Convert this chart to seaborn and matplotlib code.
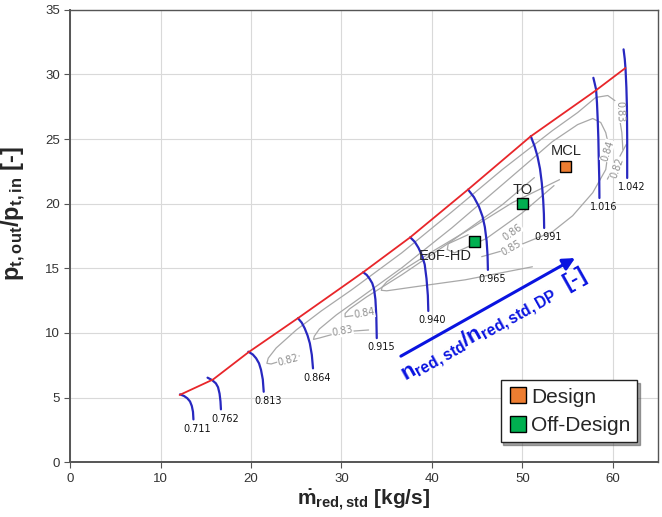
import numpy as np
import pandas as pd
import seaborn as sns
import matplotlib.pyplot as plt
from matplotlib.lines import Line2D

# surge line (red)
surge_x = [12.1, 15.8, 19.7, 25.3, 32.4, 37.6, 44.0, 50.9, 58.0, 61.4]
surge_y = [5.2, 6.4, 8.5, 11.2, 14.7, 17.4, 21.1, 25.2, 28.7, 30.5]

# speed lines (blue), top -> bottom
speed_labels = ['0.711', '0.762', '0.813', '0.864', '0.915', '0.940', '0.965', '0.991', '1.016', '1.042']
speed_x = [
    [12.15, 12.6, 12.96, 13.25, 13.45, 13.58, 13.63],
    [15.19, 15.7, 16.11, 16.35, 16.52, 16.62, 16.67],
    [19.70, 20.2, 20.56, 20.88, 21.10, 21.30, 21.40],
    [25.19, 25.6, 25.93, 26.25, 26.50, 26.72, 26.85],
    [32.40, 32.8, 33.10, 33.40, 33.60, 33.75, 33.85, 33.90],
    [37.60, 38.1, 38.50, 38.90, 39.20, 39.40, 39.55, 39.60],
    [44.00, 44.65, 45.19, 45.60, 45.85, 46.05, 46.15, 46.19],
    [50.93, 51.35, 51.67, 51.95, 52.15, 52.30, 52.38, 52.41],
    [57.85, 58.00, 58.15, 58.25, 58.33, 58.40, 58.44, 58.50, 58.52],
    [61.19, 61.32, 61.41, 61.50, 61.56, 61.59, 61.59],
]
speed_y = [
    [5.25, 5.12, 4.94, 4.70, 4.35, 3.90, 3.31],
    [6.54, 6.35, 6.10, 5.80, 5.30, 4.70, 4.09],
    [8.55, 8.33, 8.04, 7.65, 7.15, 6.40, 5.45],
    [11.14, 10.80, 10.36, 9.80, 9.20, 8.30, 7.26],
    [14.70, 14.48, 14.20, 13.85, 13.40, 12.60, 11.30, 9.60],
    [17.40, 17.05, 16.60, 16.00, 15.30, 14.20, 12.90, 11.70],
    [21.09, 20.50, 19.79, 19.00, 18.20, 17.10, 16.00, 14.88],
    [25.22, 24.45, 23.67, 22.70, 21.60, 20.30, 19.20, 18.12],
    [29.74, 29.30, 28.84, 27.80, 26.51, 25.10, 23.67, 22.00, 20.44],
    [31.94, 31.20, 30.39, 29.00, 27.54, 25.00, 21.99],
]

# efficiency iso-lines (grey)
eff_x = [
    [25.33, 23.67, 22.22, 21.75, 21.9, 22.78, 25.0, 27.78, 31.11, 36.67, 42.22, 47.78, 53.33, 56.11, 58.11, 59.44, 60.22, 60.67, 61.0, 61.11],
    [33.0, 30.0, 27.56, 26.9, 27.0, 27.56, 29.44, 32.22, 36.67, 42.22, 47.78, 53.33, 56.11, 57.78, 58.67, 59.22, 59.56, 59.22, 57.78, 55.56, 53.33, 49.0, 45.5],
    [33.67, 32.56, 31.11, 30.4, 30.4, 30.89, 32.78, 36.67, 42.22, 47.78, 51.33],
    [51.11, 43.67, 38.11, 35.0, 34.4, 34.5, 35.0, 36.67, 40.0, 44.44, 48.89, 54.11],
    [44.0, 41.8, 41.7, 42.5, 46.0, 50.0, 53.5],
    [61.5, 60.5, 59.4],
]
eff_y = [
    [8.22, 7.91, 7.60, 7.65, 8.05, 8.84, 10.23, 11.71, 13.33, 16.20, 19.38, 22.64, 25.66, 27.05, 28.22, 28.37, 27.98, 26.90, 25.50, 24.19],
    [10.23, 10.08, 9.61, 9.50, 9.75, 10.31, 11.40, 12.79, 15.04, 18.14, 21.47, 24.81, 26.12, 26.59, 26.28, 25.50, 24.42, 22.64, 20.85, 19.07, 17.83, 16.6, 15.9],
    [11.78, 11.47, 11.32, 11.25, 11.5, 11.86, 12.79, 14.50, 17.13, 19.92, 22.02],
    [15.12, 14.11, 13.57, 13.26, 13.3, 13.55, 13.95, 14.81, 16.28, 18.14, 20.08, 21.86],
    [17.6, 16.9, 16.45, 16.2, 17.3, 19.3, 21.4],
    [24.6, 23.3, 21.9],
]
eff_text = ['0.82', '0.83', '0.84', '0.85', '0.86', '0.84', '0.83', '0.82']
eff_tx = [24.1, 30.1, 32.5, 48.8, 48.9, 59.4, 60.8, 60.5]
eff_ty = [7.9, 10.1, 11.5, 16.6, 17.8, 24.1, 27.1, 22.8]
eff_rot = [15, 10, 10, 30, 35, 72, -88, 70]

# operating points
pt_names = ['MCL', 'TO', 'EoF-HD']
pt_x = [54.8, 50.0, 44.7]
pt_y = [22.9, 20.0, 17.1]
pt_kind = ['Design', 'Off-Design', 'Off-Design']

sns.set_style('whitegrid')
plt.rcParams['font.family'] = ['Liberation Sans', 'DejaVu Sans']
plt.rcParams['mathtext.fontset'] = 'custom'
plt.rcParams['mathtext.rm'] = 'Liberation Sans'
plt.rcParams['mathtext.bf'] = 'Liberation Sans:bold'

fig, ax = plt.subplots(figsize=(6.62, 5.17), dpi=100)
fig.subplots_adjust(left=0.106, right=0.994, bottom=0.106, top=0.981)

grey = '#a8a8a8'
for xs, ys in zip(eff_x, eff_y):
    sns.lineplot(x=xs, y=ys, sort=False, estimator=None, color=grey, lw=0.9, ax=ax)
for t, x, y, r in zip(eff_text, eff_tx, eff_ty, eff_rot):
    ax.text(x, y, t, color='#909090', fontsize=7, family='DejaVu Sans', rotation=r,
            ha='center', va='center', rotation_mode='anchor',
            bbox=dict(facecolor='white', edgecolor='none', pad=0.3))

blue = '#2828c0'
for lab, xs, ys in zip(speed_labels, speed_x, speed_y):
    sns.lineplot(x=xs, y=ys, sort=False, estimator=None, color=blue, lw=1.6, ax=ax)
    ax.annotate(lab, (xs[-1], ys[-1]), xytext=(3, -3), textcoords='offset points',
                ha='center', va='top', fontsize=7, family='DejaVu Sans', color='#111111')

sns.lineplot(x=surge_x, y=surge_y, sort=False, estimator=None, color='#e8262a', lw=1.3, ax=ax)

df = pd.DataFrame({'x': pt_x, 'y': pt_y, 'kind': pt_kind})
sns.scatterplot(data=df, x='x', y='y', hue='kind', palette={'Design': '#ed7d31', 'Off-Design': '#00b050'},
                marker='s', s=60, edgecolor='black', linewidth=1, legend=False, ax=ax, zorder=5)
ax.text(pt_x[0], pt_y[0] + 0.6, 'MCL', ha='center', va='bottom', fontsize=10.5)
ax.text(pt_x[1], pt_y[1] + 0.5, 'TO', ha='center', va='bottom', fontsize=10.5)
ax.text(pt_x[2] - 0.3, pt_y[2] - 0.6, 'EoF-HD', ha='right', va='top', fontsize=10.5)

# arrow with speed ratio label
ax.annotate('', xy=(56.1, 15.9), xytext=(36.3, 8.1),
            arrowprops=dict(arrowstyle='-|>', color='#0a14e0', lw=2.2, mutation_scale=18))
ax.text(46.8, 10.6, r'$\mathbf{n_{red,std}/n_{red,std,DP}}$  [-]', color='#0a14e0', fontsize=16,
        fontweight='bold', rotation=29.3, ha='center', va='center', rotation_mode='anchor')

ax.set_xlim(0, 65)
ax.set_ylim(0, 35)
ax.set_xticks(range(0, 61, 10))
ax.set_yticks(range(0, 36, 5))
ax.grid(color='#d9d9d9', lw=0.8)
ax.tick_params(axis='both', which='both', direction='out', length=4, width=0.8,
               color='#555555', labelcolor='#333333', labelsize=9.5, left=True, bottom=True)
for s in ax.spines.values():
    s.set_color('#555555')
    s.set_linewidth(1.0)
ax.spines['left'].set_linewidth(1.4)
ax.spines['bottom'].set_linewidth(1.4)

ax.set_xlabel(r'$\mathbf{\dot{m}_{red,std}}$ [kg/s]', fontsize=15, fontweight='bold', labelpad=2)
ax.set_ylabel(r'$\mathbf{p_{t,out}/p_{t,in}}$ [-]', fontsize=17, fontweight='bold')
ax.yaxis.set_label_coords(-0.072, 0.55)

handles = [Line2D([], [], marker='s', ls='none', markersize=11, markerfacecolor='#ed7d31', markeredgecolor='black'),
           Line2D([], [], marker='s', ls='none', markersize=11, markerfacecolor='#00b050', markeredgecolor='black')]
leg = ax.legend(handles, ['Design', 'Off-Design'], loc='lower right', bbox_to_anchor=(0.965, 0.044),
                fontsize=15, frameon=True, fancybox=False, shadow=True, edgecolor='#222222',
                handletextpad=0.1, borderpad=0.35, labelspacing=0.45, handlelength=1.0, borderaxespad=0)
leg.get_frame().set_linewidth(1.0)

fig.savefig('out.png', dpi=100)
